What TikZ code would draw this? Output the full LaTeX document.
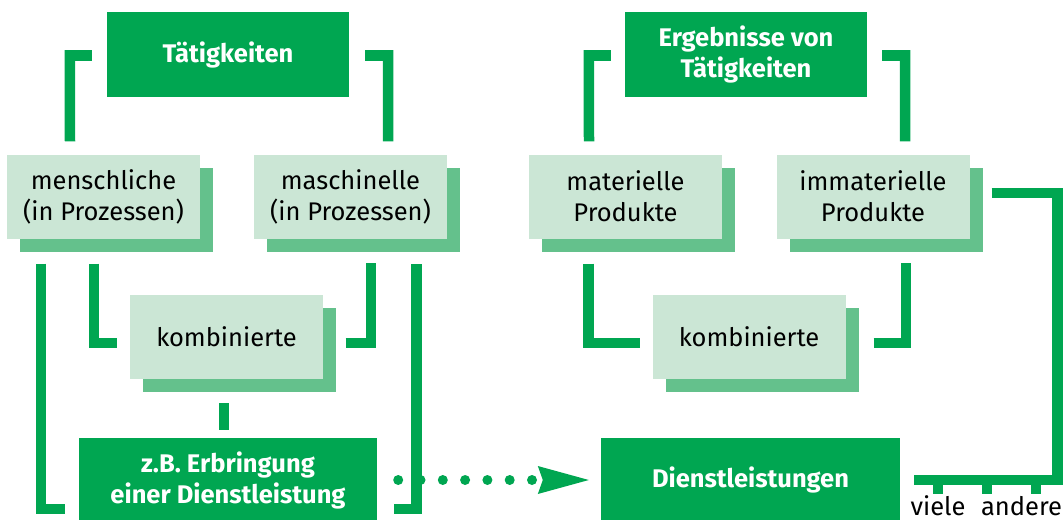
\documentclass[tikz,border=0pt]{standalone}
\usepackage{fontspec}
\setmainfont{Fira Sans}
\usetikzlibrary{arrows.meta}
\usetikzlibrary{shadows}
\usetikzlibrary{calc}

\definecolor{dgreen}{RGB}{0,166,81}
\definecolor{lgreen}{RGB}{203,230,213}
\definecolor{sgreen}{RGB}{100,193,140}

\newcommand{\boxfont}{\fontsize{25.5}{31}\selectfont}

\tikzset{
  darkbox/.style={fill=dgreen, text=white, font=\boxfont\bfseries, align=center,
    inner sep=0pt, minimum height=84pt},
  lightbox/.style={fill=lgreen, text=black, font=\boxfont, align=center, inner sep=0pt,
    minimum width=193pt, minimum height=84pt,
    drop shadow={shadow xshift=13pt, shadow yshift=-13pt, fill=sgreen, opacity=1}},
  undertext/.style={font=\boxfont, inner sep=0pt, text depth=0pt, anchor=base},
  bracket/.style={draw=dgreen, line width=10.5pt, line cap=butt, line join=miter},
  dotline/.style={draw=dgreen, line width=10pt, line cap=round,
    dash pattern=on 0pt off 22.3pt},
}

\begin{document}
\begin{tikzpicture}[x=1pt, y=-1pt]
	\useasboundingbox (0,0) rectangle (1064,519);
	\clip (0,0) rectangle (1064,519);
	
	% left part
	\node[darkbox, minimum width=242pt] (taet) at (228,54.5) {Tätigkeiten};
	\node[lightbox] (mensch) at (103.5,196.5) {menschliche\\(in Prozessen)};
	\node[lightbox] (masch) at (350.5,196.5) {maschinelle\\(in Prozessen)};
	\node[lightbox] (kombl) at (226.5,337) {kombinierte};
	\node[darkbox, minimum width=298pt] (zb) at (228,480) {z.B. Erbringung\\einer Dienstleistung};
	
	% right part
	\node[darkbox, minimum width=242pt] (erg) at (746,54.5) {Ergebnisse von\\Tätigkeiten};
	\node[lightbox] (mat) at (625.5,196.5) {materielle\\Produkte};
	\node[lightbox] (immat) at (873,196.5) {immaterielle\\Produkte};
	\node[lightbox] (kombr) at (749,337) {kombinierte};
	\node[darkbox, minimum width=299pt] (dienst) at (750.5,480) {Dienstleistungen};
	
	% texts under the line
	\node[undertext] (viele) at (938,515) {viele};
	\node[undertext] (andere) at (1021.5,515) {andere};
	
	% brackets left
	\draw[bracket] ([xshift=-15pt,yshift=-1pt]taet.west) -- ++(-22,0) -- ([xshift=-33.5pt,yshift=13pt]mensch.north);
	\draw[bracket] ([xshift=16pt,yshift=-1pt]taet.east) -- ++(23,0) -- ([xshift=37.5pt,yshift=13pt]masch.north);
	\draw[bracket] ([xshift=-62.5pt,yshift=-25pt]mensch.south) |- ([xshift=-14pt,yshift=-29pt]zb.west);
	\draw[bracket] ([xshift=-9.5pt,yshift=-25pt]mensch.south) |- ([xshift=-13pt,yshift=-6pt]kombl.west);
	\draw[bracket] ([xshift=22.5pt,yshift=-6pt]kombl.east) -| ([xshift=20.5pt,yshift=-24pt]masch.south);
	\draw[bracket] ([xshift=17pt,yshift=-29pt]zb.east) -| ([xshift=66pt,yshift=-25pt]masch.south);
	\draw[bracket] ([xshift=-2.5pt,yshift=-24pt]kombl.south) -- ([xshift=-4pt,yshift=8pt]zb.north);
	
	% brackets right
	\draw[bracket] ([xshift=-14pt,yshift=-1pt]erg.west) -- ++(-22,0) -- ([xshift=-36.5pt,yshift=13pt]mat.north);
	\draw[bracket] ([xshift=15pt,yshift=-1pt]erg.east) -- ++(23,0) -- ([xshift=32pt,yshift=13pt]immat.north);
	\draw[bracket] ([xshift=-37pt,yshift=-25pt]mat.south) |- ([xshift=-12.5pt,yshift=-6pt]kombr.west);
	\draw[bracket] ([xshift=28pt,yshift=-6pt]kombr.east) -| ([xshift=33pt,yshift=-24pt]immat.south);
	\draw[bracket] ([xshift=22pt,yshift=3.5pt]immat.east) -- ++(66,0) |- ([xshift=14pt]dienst.east);
	\foreach \t/\dx in {viele/0, andere/-35, andere/14}
	  \draw[bracket, line width=10pt] ([xshift=\dx pt]\t.north |- dienst.east) -- ++(0,14);
	
	% dotted arrow
	\draw[dotline, -{Stealth[length=51pt, width=28pt, inset=5pt, line width=0pt, fill=dgreen]}]
	  ([xshift=21pt]zb.east) -- ([xshift=-12pt]zb.east -| dienst.west);
\end{tikzpicture}
\end{document}
